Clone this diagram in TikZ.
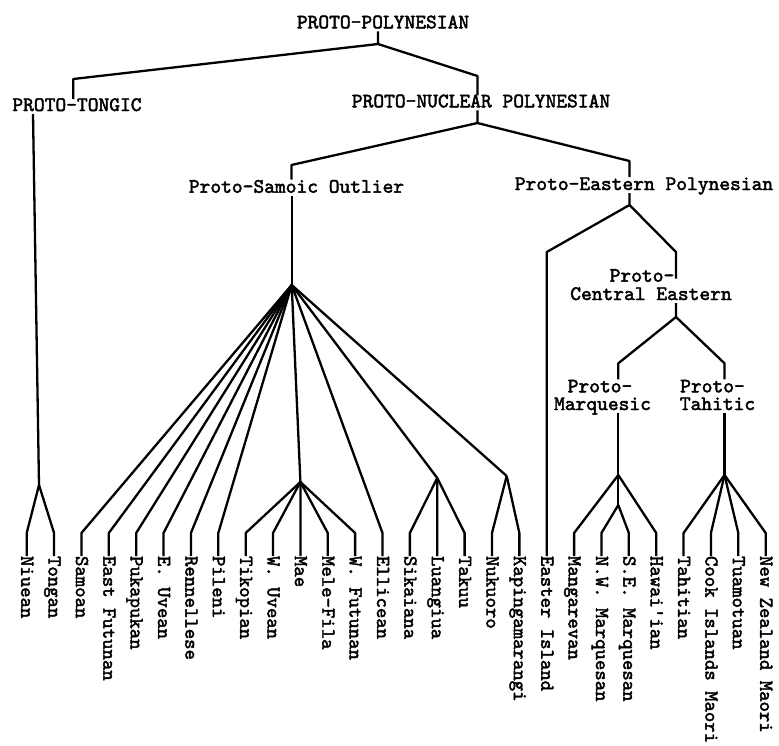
\documentclass[tikz,border=0pt]{standalone}
\usepackage{fontspec}
\newfontfamily\twfont{lmmono10-regular.otf}[FakeBold=2.2]
\tikzset{
  lbl/.style={font=\twfont\fontsize{20.5}{20.5}\selectfont, inner sep=0pt, outer sep=0pt, text height=13pt, text depth=3pt, anchor=base},
  leaflbl/.style={font=\twfont\fontsize{19.8}{19.8}\selectfont, inner sep=0pt, outer sep=0pt, text height=11pt, text depth=0pt, rotate=-90, anchor=west},
  branch/.style={draw=black, line width=2.3pt, line join=round}
}
\begin{document}
\begin{tikzpicture}[x=1pt,y=-1pt]
\fill[white] (0,0) rectangle (779,745);
\path[use as bounding box] (0,0) rectangle (779,745);

% upper labels
\node[lbl] (pp) at (383,28.3) {PROTO-POLYNESIAN};
\node[lbl] (pt) at (77,111) {PROTO-TONGIC};
\node[lbl] (pn) at (481,107.3) {PROTO-NUCLEAR POLYNESIAN};
\node[lbl] (so) at (296.5,192.7) {Proto-Samoic Outlier};
\node[lbl] (ep) at (644,190) {Proto-Eastern Polynesian};
\node[lbl] (ceA) at (642,281.7) {Proto-};
\node[lbl] (ceB) at (651,300) {Central Eastern};
\node[lbl] (mqA) at (600,392.3) {Proto-};
\node[lbl] (mqB) at (602.5,410) {Marquesic};
\node[lbl] (thA) at (712.5,392.3) {Proto-};
\node[lbl] (thB) at (717.5,410) {Tahitic};

% leaves
\foreach \nm [count=\k from 0] in {Niuean,Tongan,Samoan,East Futunan,Pukapukan,E. Uvean,Rennellese,Pileni,Tikopian,W. Uvean,Mae,Mele-Fila,W. Futunan,Ellicean,Sikaiana,Luangiua,Takuu,Nukuoro,Kapingamarangi,Easter Island,Mangarevan,N.W. Marquesan,S.E. Marquesan,Hawai'ian,Tahitian,Cook Islands Maori,Tuamotuan,New Zealand Maori}
  \node[leaflbl] (leaf\k) at ({26.7+27.37*\k},556) {\nm};

% junctions
\coordinate (ppj) at (378,44);
\coordinate (ptk) at (73.3,79);
\coordinate (pnk) at (477.5,76);
\coordinate (pnj) at (477.5,123);
\coordinate (sok) at (291.5,165);
\coordinate (epk) at (629.5,161);
\coordinate (epj) at (629.5,205);
\coordinate (cek) at (676,252);
\coordinate (cej) at (676,317);
\coordinate (mqk) at (618.3,363.3);
\coordinate (thk) at (724.5,363.3);
\coordinate (mqj) at (618.3,475);
\coordinate (mqs) at (618.3,505);
\coordinate (thj) at (724.5,475);
\coordinate (soj) at (291.7,285);
\coordinate (tgj) at (39,485);
\coordinate (maej) at (300.4,482);
\coordinate (sikj) at (437.25,478);
\coordinate (nukj) at (506.7,476);

% top levels
\draw[branch] (pp.south -| ppj) -- (ppj) -- (ptk) -- ([yshift=-1pt]pt.north -| ptk);
\draw[branch] (ppj) -- (pnk) -- ([yshift=-1pt]pn.north -| pnk);
\draw[branch] (pn.south -| pnj) -- (pnj) -- (sok) -- (so.north -| sok);
\draw[branch] (pnj) -- (epk) -- (ep.north -| epk);

% Tongic
\draw[branch] ([xshift=-44pt]pt.south) -- (tgj);
\foreach \k in {0,1}
  \draw[branch] (tgj) -- ([yshift=23pt]leaf\k.west) -- (leaf\k.west);

% Samoic Outlier
\draw[branch] (so.south -| soj) -- (soj);
\foreach \k in {2,...,7,13}
  \draw[branch] (soj) -- ([yshift=23pt]leaf\k.west) -- (leaf\k.west);
\draw[branch] (soj) -- (maej) -- (leaf10.west);
\foreach \k in {8,9,11,12}
  \draw[branch] (maej) -- ([yshift=23pt]leaf\k.west) -- (leaf\k.west);
\draw[branch] (soj) -- (sikj) -- (leaf15.west);
\foreach \k in {14,16}
  \draw[branch] (sikj) -- ([yshift=23pt]leaf\k.west) -- (leaf\k.west);
\draw[branch] (soj) -- (nukj);
\foreach \k in {17,18}
  \draw[branch] (nukj) -- ([yshift=23pt]leaf\k.west) -- (leaf\k.west);

% Eastern
\draw[branch] (ep.south -| epj) -- (epj) -- (leaf19.west |- cek) -- (leaf19.west);
\draw[branch] (epj) -- (cek) -- ([yshift=-10pt]ceA.north -| cek);
\draw[branch] (ceB.south -| cej) -- (cej) -- (mqk) -- (mqA.north -| mqk);
\draw[branch] (cej) -- (thk) -- (thA.north -| thk);

% Marquesic
\draw[branch] (mqB.south -| mqj) -- (mqj) -- (mqs);
\foreach \k in {20,23}
  \draw[branch] (mqj) -- ([yshift=23pt]leaf\k.west) -- (leaf\k.west);
\foreach \k in {21,22}
  \draw[branch] (mqs) -- ([yshift=23pt]leaf\k.west) -- (leaf\k.west);

% Tahitic
\draw[branch] (thB.south -| thj) -- (thj);
\foreach \k in {24,...,27}
  \draw[branch] (thj) -- ([yshift=23pt]leaf\k.west) -- (leaf\k.west);
\end{tikzpicture}
\end{document}
